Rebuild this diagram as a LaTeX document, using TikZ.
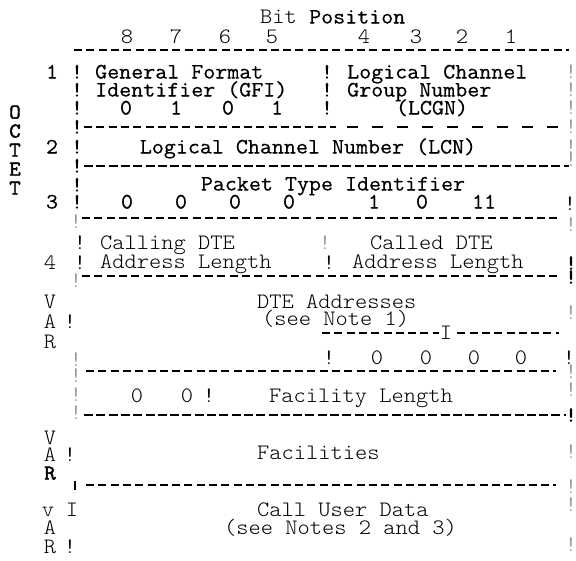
\documentclass[tikz,border=0pt]{standalone}
\usepackage{fontspec}
\usetikzlibrary{calc}
\newfontfamily\monofam[FakeStretch=1.06]{Latin Modern Mono Light}
\newfontfamily\heavyfam[FakeStretch=1.06,FakeBold=0.45]{Latin Modern Mono}
\newfontfamily\octfam[FakeStretch=1.06,FakeBold=2]{Latin Modern Mono}
\newcommand\thinmono{\monofam\fontsize{22}{24}\selectfont}
\newcommand\heavymono{\heavyfam\fontsize{22}{24}\selectfont}
\newcommand\octmono{\octfam\fontsize{21}{24}\selectfont}

\begin{document}
\begin{tikzpicture}[x=1pt,y=-1pt,
    lbl/.style={inner sep=0pt,text height=13pt,text depth=0pt,font=\thinmono},
    hlbl/.style={lbl,font=\heavymono},
    blbl/.style={lbl,font=\octmono},
    gbang/.style={lbl,text=black!40},
    rule/.style={line width=1.1pt,dash pattern=on 8pt off 4.3pt},
    heavyrule/.style={line width=2.5pt,dash pattern=on 9pt off 3.3pt}]
    \useasboundingbox (0,0) rectangle (576,560);

    % header
    \node[lbl,anchor=west] (bitpos) at (260,17) {Bit {\heavymono Position}};
    \foreach \b/\x in {8/127,7/176,6/225,5/272,4/364,3/416,2/462,1/511}
        \node[lbl] (bit\b) at (\x,37) {\b};
    \draw[rule] (74,50) -- (569,50);

    \foreach \c [count=\i] in {O,C,T,E,T}
        \node[blbl] (oct\i) at (15,{93+19*\i}) {\c};

    % left and right margins
    \foreach \y [count=\i] in {72,90,108,127,147,166,185,202}
        \node[hlbl] (lbar\i) at (77,\y) {!};
    \foreach \y [count=\i] in {222,281,360,376,395,413}
        \node[gbang] (lgray\i) at (76,\y) {!};
    \foreach \y [count=\i] in {72,90,108,127,147,160,225,313,372,390,452,487,505,545}
        \node[gbang] (rgray\i) at (571,\y) {!};

    % octet 1
    \node[hlbl] (oct1num) at (52,72) {1};
    \node[hlbl,anchor=west] (gfi) at (95,72) {General Format};
    \node[hlbl,anchor=west] (gfib) at (95,90) {Identifier (GFI)};
    \foreach \v/\x [count=\i] in {0/126,1/176,0/228,1/277}
        \node[hlbl] (gfibit\i) at (\x,108) {\v};
    \foreach \y [count=\i] in {72,90,108}
        \node[hlbl] (mbar\i) at (327,\y) {!};
    \node[hlbl,anchor=west] (lcgn) at (347,72) {Logical Channel};
    \node[hlbl,anchor=west] (lcgnb) at (347,90) {Group Number};
    \node[hlbl] (lcgnc) at (432,108) {(LCGN)};
    \draw[rule] (84,127) -- (336,127);
    \draw[rule,dash pattern=on 11pt off 14pt] (347,127) -- (558,127);

    % octet 2
    \node[hlbl] (oct2num) at (52,147) {2};
    \node[hlbl] (lcn) at (308,147) {Logical Channel Number (LCN)};
    \draw[heavyrule] (84,166) -- (569,166);

    % octet 3
    \node[hlbl] (pti) at (333,184) {Packet Type Identifier};
    \node[hlbl] (oct3num) at (52,202) {3};
    \foreach \v/\x [count=\i] in {0/127,0/181,0/235,0/289,1/374,0/422,11/484}
        \node[hlbl] (ptibit\i) at (\x,202) {\v};
    \node[lbl] (rbar3) at (570,204) {!};
    \draw[rule] (82,218) -- (557,218);

    % octet 4
    \node[lbl] (oct4num) at (50,263) {4};
    \node[lbl] (lbar4a) at (80,243) {!};
    \node[lbl] (lbar4b) at (80,263) {!};
    \node[lbl,anchor=west] (calling) at (100,243) {Calling DTE};
    \node[lbl,anchor=west] (callingb) at (100,262) {Address Length};
    \node[gbang] (mbar4a) at (325,243) {!};
    \node[lbl] (mbar4b) at (329,263) {!};
    \node[lbl,anchor=west] (called) at (370,243) {Called DTE};
    \node[lbl,anchor=west] (calledb) at (352,262) {Address Length};
    \node[blbl] (rbar4a) at (571,263) {!};
    \node[blbl] (rbar4b) at (571,277) {!};
    \draw[rule] (82,276) -- (557,276);

    % DTE addresses
    \foreach \c/\y [count=\i] in {V/302,A/322,R/342}
        \node[lbl] (var1\i) at (50,\y) {\c};
    \node[lbl] (abar) at (70,322) {!};
    \node[lbl,anchor=west] (dte) at (257,302) {DTE Addresses};
    \node[lbl,anchor=west] (dteb) at (262,319) {(see Note 1)};
    \draw[rule] (322,333) -- (559,333);
    \node[lbl,fill=white,inner xsep=1pt] (tee) at (446,333) {I};
    \node[lbl] (padl) at (329,358) {!};
    \foreach \x [count=\i] in {377,426,474,521}
        \node[lbl] (pad\i) at (\x,358) {0};
    \node[lbl] (padr) at (569,358) {!};
    \draw[rule] (86,371) -- (556,371);

    % facility length
    \node[lbl] (fl1) at (137,396) {0};
    \node[lbl] (fl2) at (187,396) {0};
    \node[lbl] (flbar) at (209,396) {!};
    \node[lbl,anchor=west] (fl) at (269,396) {Facility Length};
    \draw[heavyrule] (84,415) -- (566,415);
    \node[blbl] (rbar5) at (571,415) {!};

    % facilities
    \node[lbl] (var21) at (50,438) {V};
    \node[lbl] (var22) at (50,455) {A};
    \node[blbl] (var23) at (50,473) {R};
    \node[lbl] (fbar) at (70,455) {!};
    \node[lbl,anchor=west] (fac) at (257,453) {Facilities};
    \draw[line width=2.2pt] (75,481) -- (75,490);
    \draw[rule] (86,485) -- (556,485);

    % call user data
    \node[lbl] (var31) at (48,510) {v};
    \node[lbl] (var32) at (50,528) {A};
    \node[lbl] (var33) at (50,547) {R};
    \node[lbl] (cbar1) at (72,510) {I};
    \node[lbl] (cbar2) at (70,547) {!};
    \node[lbl,anchor=west] (cud) at (257,510) {Call User Data};
    \node[lbl,anchor=west] (cudb) at (224,528) {(see Notes 2 and 3)};
\end{tikzpicture}
\end{document}
